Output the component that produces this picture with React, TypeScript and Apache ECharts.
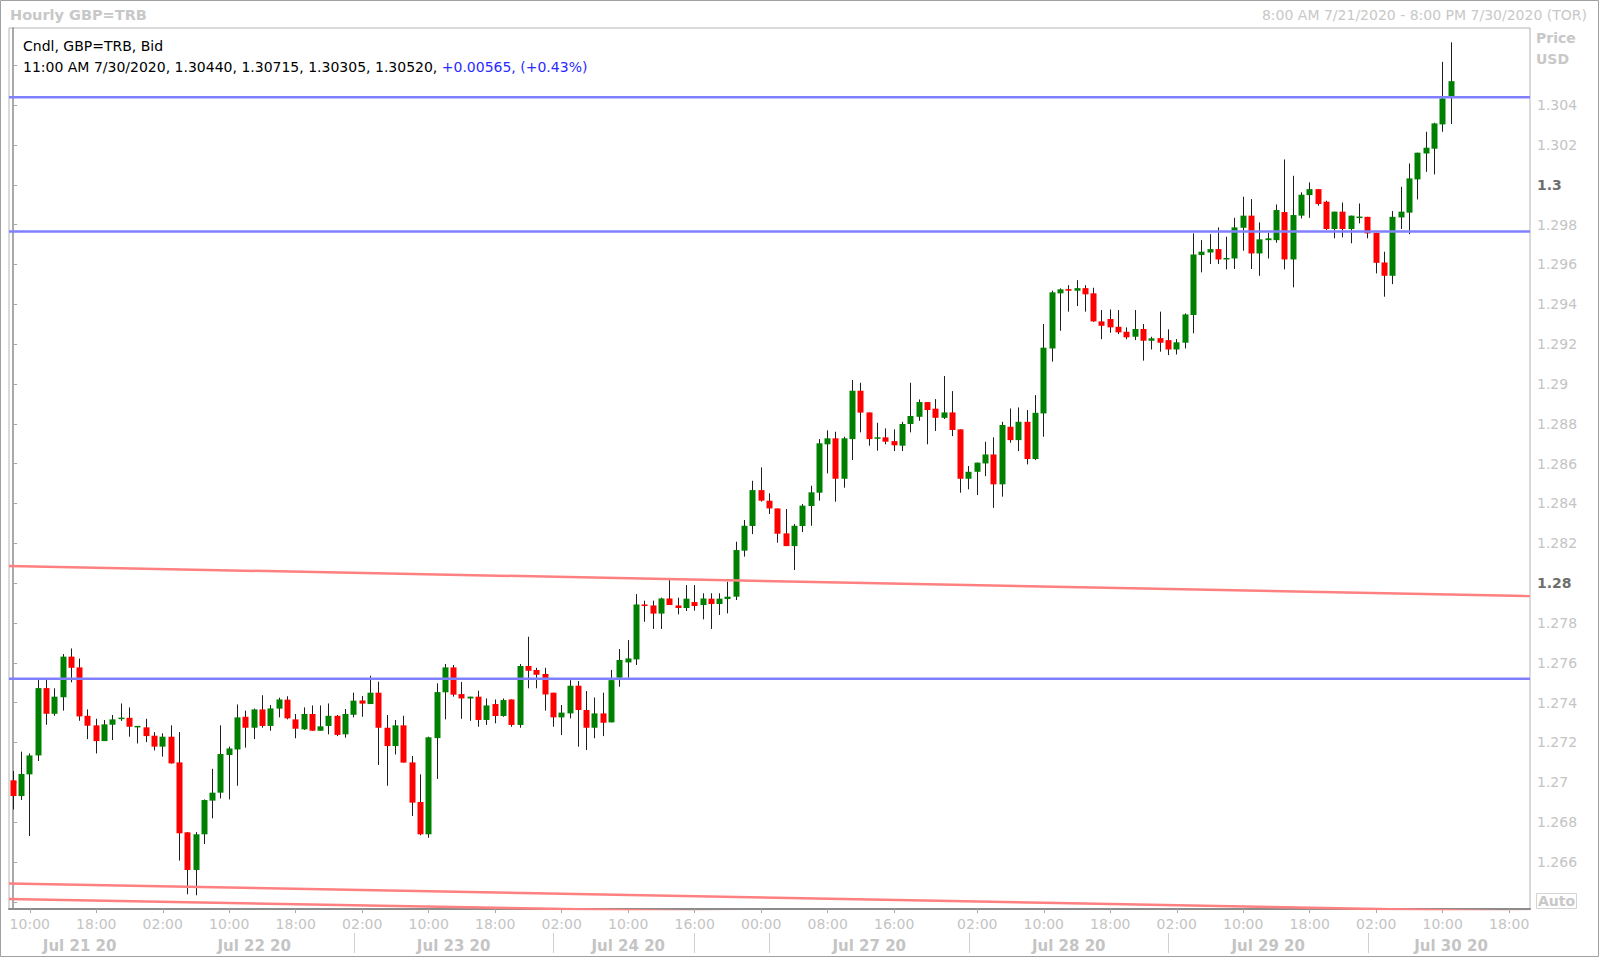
import React, { useEffect, useRef } from 'react';
import * as echarts from 'echarts';

const FONT = "'DejaVu Sans', Verdana, sans-serif";

// ---- time axis (hourly bars, weekend gap) ----
const sessionDays = ['Jul 21 20', 'Jul 22 20', 'Jul 23 20', 'Jul 24 20', 'Jul 26 20', 'Jul 27 20', 'Jul 28 20', 'Jul 29 20', 'Jul 30 20'];
const sessionFirstHour = [8, 0, 0, 0, 16, 0, 0, 0, 0];
const sessionLastHour = [23, 23, 23, 17, 23, 23, 23, 23, 20];

const hourLabelIndex = [2, 10, 18, 26, 34, 42, 50, 58, 66, 74, 82, 90, 98, 106, 116, 124, 132, 140, 148, 156, 164, 172, 180];
const dateLabelIndex = [8, 29, 53, 74, 103, 127, 151, 173];
const dateSeparatorIndex = [41, 65, 82, 91, 115, 139, 163];

// ---- OHLC (bid) ----
const opens = [
  1.27010, 1.26931, 1.27040, 1.27135, 1.27473, 1.27344, 1.27427, 1.27631, 1.27577, 1.27334,
  1.27286, 1.27207, 1.27289, 1.27318, 1.27324, 1.27276, 1.27276, 1.27234, 1.27179, 1.27229,
  1.27100, 1.26749, 1.26560, 1.26739, 1.26908, 1.26948, 1.27137, 1.27165, 1.27329, 1.27274,
  1.27366, 1.27283, 1.27370, 1.27415, 1.27316, 1.27266, 1.27343, 1.27259, 1.27283, 1.27334,
  1.27241, 1.27339, 1.27411, 1.27393, 1.27450, 1.27274, 1.27182, 1.27286, 1.27100, 1.26901,
  1.26739, 1.27222, 1.27452, 1.27577, 1.27443, 1.27421, 1.27430, 1.27313, 1.27393, 1.27333,
  1.27416, 1.27288, 1.27584, 1.27564, 1.27544, 1.27450, 1.27326, 1.27346, 1.27485, 1.27363,
  1.27274, 1.27346, 1.27301, 1.27525, 1.27602, 1.27617, 1.27893, 1.27888, 1.27847, 1.27923,
  1.27888, 1.27875, 1.27905, 1.27890, 1.27922, 1.27895, 1.27920, 1.27932, 1.28163, 1.28287,
  1.28467, 1.28414, 1.28375, 1.28250, 1.28186, 1.28287, 1.28387, 1.28454, 1.28697, 1.28727,
  1.28524, 1.28723, 1.28966, 1.28857, 1.28725, 1.28732, 1.28713, 1.28690, 1.28799, 1.28835,
  1.28909, 1.28876, 1.28830, 1.28857, 1.28772, 1.28524, 1.28559, 1.28601, 1.28646, 1.28496,
  1.28785, 1.28718, 1.28810, 1.28623, 1.28852, 1.29178, 1.29455, 1.29476, 1.29468, 1.29481,
  1.29455, 1.29314, 1.29326, 1.29287, 1.29262, 1.29237, 1.29276, 1.29217, 1.29230, 1.29220,
  1.29173, 1.29207, 1.29346, 1.29647, 1.29660, 1.29677, 1.29625, 1.29630, 1.29784, 1.29845,
  1.29655, 1.29722, 1.29722, 1.29863, 1.29625, 1.29845, 1.29948, 1.29978, 1.29915, 1.29778,
  1.29865, 1.29778, 1.29834, 1.29839, 1.29759, 1.29610, 1.29543, 1.29836, 1.29860, 1.30027,
  1.30157, 1.30181, 1.30303, 1.30440,
];
const highs = [
  1.27057, 1.27154, 1.27145, 1.27514, 1.27514, 1.27472, 1.27644, 1.27672, 1.27621, 1.27366,
  1.27319, 1.27313, 1.27338, 1.27396, 1.27376, 1.27283, 1.27319, 1.27252, 1.27246, 1.27286,
  1.27252, 1.26750, 1.26750, 1.26914, 1.27068, 1.27286, 1.27179, 1.27391, 1.27360, 1.27370,
  1.27437, 1.27388, 1.27425, 1.27432, 1.27343, 1.27376, 1.27386, 1.27386, 1.27396, 1.27338,
  1.27368, 1.27450, 1.27433, 1.27535, 1.27505, 1.27338, 1.27313, 1.27334, 1.27132, 1.27040,
  1.27229, 1.27497, 1.27594, 1.27589, 1.27504, 1.27430, 1.27460, 1.27421, 1.27416, 1.27421,
  1.27416, 1.27594, 1.27731, 1.27575, 1.27575, 1.27450, 1.27388, 1.27513, 1.27508, 1.27458,
  1.27426, 1.27450, 1.27564, 1.27669, 1.27714, 1.27945, 1.27912, 1.27912, 1.27927, 1.28016,
  1.27927, 1.27990, 1.27990, 1.27949, 1.27949, 1.27949, 1.28007, 1.28208, 1.28317, 1.28514,
  1.28581, 1.28451, 1.28375, 1.28372, 1.28297, 1.28397, 1.28489, 1.28723, 1.28767, 1.28760,
  1.28735, 1.29020, 1.29006, 1.28857, 1.28805, 1.28777, 1.28772, 1.28810, 1.29006, 1.28922,
  1.28909, 1.28924, 1.29040, 1.28964, 1.28772, 1.28588, 1.28605, 1.28710, 1.28732, 1.28810,
  1.28877, 1.28882, 1.28869, 1.28944, 1.29301, 1.29468, 1.29480, 1.29496, 1.29521, 1.29496,
  1.29483, 1.29371, 1.29374, 1.29371, 1.29284, 1.29371, 1.29301, 1.29237, 1.29363, 1.29274,
  1.29225, 1.29354, 1.29756, 1.29722, 1.29752, 1.29786, 1.29739, 1.29834, 1.29940, 1.29928,
  1.29811, 1.29759, 1.29901, 1.30127, 1.30045, 1.29962, 1.30012, 1.29978, 1.29920, 1.29865,
  1.29911, 1.29845, 1.29906, 1.29839, 1.29759, 1.29664, 1.29868, 1.29990, 1.30107, 1.30161,
  1.30266, 1.30311, 1.30617, 1.30715,
];
const lows = [
  1.26864, 1.26911, 1.26730, 1.27107, 1.27289, 1.27334, 1.27360, 1.27502, 1.27309, 1.27217,
  1.27145, 1.27207, 1.27212, 1.27308, 1.27229, 1.27195, 1.27202, 1.27160, 1.27129, 1.27094,
  1.26607, 1.26438, 1.26433, 1.26690, 1.26819, 1.26919, 1.26914, 1.26983, 1.27174, 1.27217,
  1.27274, 1.27259, 1.27326, 1.27316, 1.27221, 1.27263, 1.27259, 1.27259, 1.27241, 1.27232,
  1.27224, 1.27326, 1.27329, 1.27393, 1.27087, 1.26983, 1.27140, 1.27099, 1.26831, 1.26734,
  1.26722, 1.27017, 1.27316, 1.27430, 1.27319, 1.27309, 1.27279, 1.27288, 1.27296, 1.27329,
  1.27279, 1.27274, 1.27472, 1.27472, 1.27360, 1.27279, 1.27237, 1.27321, 1.27179, 1.27162,
  1.27221, 1.27232, 1.27301, 1.27480, 1.27525, 1.27589, 1.27806, 1.27770, 1.27770, 1.27890,
  1.27843, 1.27860, 1.27862, 1.27818, 1.27770, 1.27840, 1.27848, 1.27915, 1.28133, 1.28246,
  1.28409, 1.28347, 1.28203, 1.28186, 1.28066, 1.28256, 1.28288, 1.28414, 1.28551, 1.28409,
  1.28479, 1.28618, 1.28757, 1.28690, 1.28665, 1.28697, 1.28663, 1.28663, 1.28757, 1.28815,
  1.28697, 1.28764, 1.28824, 1.28738, 1.28454, 1.28471, 1.28442, 1.28537, 1.28378, 1.28434,
  1.28705, 1.28663, 1.28596, 1.28618, 1.28735, 1.29112, 1.29267, 1.29363, 1.29391, 1.29363,
  1.29312, 1.29225, 1.29257, 1.29250, 1.29225, 1.29220, 1.29117, 1.29173, 1.29162, 1.29145,
  1.29148, 1.29178, 1.29254, 1.29560, 1.29602, 1.29602, 1.29575, 1.29577, 1.29669, 1.29577,
  1.29543, 1.29630, 1.29709, 1.29575, 1.29485, 1.29831, 1.29834, 1.29895, 1.29773, 1.29731,
  1.29736, 1.29706, 1.29806, 1.29731, 1.29555, 1.29438, 1.29501, 1.29778, 1.29752, 1.29926,
  1.30065, 1.30052, 1.30266, 1.30305,
];
const closes = [
  1.26931, 1.27042, 1.27135, 1.27473, 1.27344, 1.27430, 1.27631, 1.27575, 1.27331, 1.27284,
  1.27207, 1.27291, 1.27316, 1.27324, 1.27279, 1.27283, 1.27232, 1.27179, 1.27229, 1.27095,
  1.26744, 1.26560, 1.26739, 1.26911, 1.26948, 1.27142, 1.27170, 1.27326, 1.27274, 1.27366,
  1.27283, 1.27371, 1.27416, 1.27321, 1.27269, 1.27343, 1.27259, 1.27281, 1.27334, 1.27238,
  1.27343, 1.27410, 1.27395, 1.27450, 1.27274, 1.27182, 1.27286, 1.27099, 1.26898, 1.26739,
  1.27226, 1.27453, 1.27577, 1.27440, 1.27421, 1.27430, 1.27313, 1.27386, 1.27333, 1.27413,
  1.27288, 1.27584, 1.27560, 1.27540, 1.27441, 1.27326, 1.27350, 1.27485, 1.27363, 1.27274,
  1.27346, 1.27299, 1.27513, 1.27614, 1.27622, 1.27893, 1.27885, 1.27847, 1.27923, 1.27890,
  1.27875, 1.27922, 1.27885, 1.27923, 1.27895, 1.27922, 1.27932, 1.28166, 1.28288, 1.28467,
  1.28414, 1.28375, 1.28248, 1.28186, 1.28288, 1.28389, 1.28456, 1.28702, 1.28727, 1.28524,
  1.28727, 1.28966, 1.28856, 1.28723, 1.28732, 1.28710, 1.28692, 1.28799, 1.28839, 1.28909,
  1.28869, 1.28830, 1.28857, 1.28769, 1.28524, 1.28559, 1.28605, 1.28646, 1.28496, 1.28794,
  1.28718, 1.28810, 1.28623, 1.28855, 1.29182, 1.29460, 1.29475, 1.29468, 1.29481, 1.29450,
  1.29314, 1.29292, 1.29284, 1.29259, 1.29234, 1.29276, 1.29217, 1.29229, 1.29207, 1.29173,
  1.29209, 1.29349, 1.29650, 1.29664, 1.29677, 1.29625, 1.29632, 1.29786, 1.29845, 1.29655,
  1.29726, 1.29731, 1.29873, 1.29625, 1.29848, 1.29950, 1.29978, 1.29903, 1.29778, 1.29865,
  1.29778, 1.29845, 1.29839, 1.29756, 1.29608, 1.29543, 1.29839, 1.29865, 1.30032, 1.30161,
  1.30186, 1.30308, 1.30433, 1.30520,
];

// ---- drawn studies ----
const horizontalLevels = [1.30439, 1.29765, 1.27520];
const channelStart = [1.28086, 1.26492, 1.26414];
const channelEnd = [1.27935, 1.26350, 1.26277];

const yMin = 1.26364;
const yMax = 1.30787;

const lastTime = '11:00 AM 7/30/2020';
const lastChange = '+0.00565';
const lastChangePct = '(+0.43%)';

const categories: string[] = [];
sessionDays.forEach((d, k) => {
  for (let h = sessionFirstHour[k]; h <= sessionLastHour[k]; h++) {
    categories.push(d + '|' + String(h).padStart(2, '0') + ':00');
  }
});

const hourSet = new Set(hourLabelIndex);
const dateSet = new Set(dateLabelIndex);
const sepSet = new Set(dateSeparatorIndex);

export default function App() {
  const ref = useRef<HTMLDivElement>(null);

  useEffect(() => {
    if (!ref.current) return;
    const chart = echarts.init(ref.current, undefined, { renderer: 'svg' });
    const n = closes.length;
    const last = n - 1;
    const xEnd = categories.length - 0.5;
    const candleData = opens.map((o, i) => [i, o, closes[i], lows[i], highs[i]]);

    const yLabel = (v: number) => {
      const k = Math.round(v * 1000);
      if (Math.abs(v * 1000 - k) > 0.01) return '';
      if (k % 2 !== 0 || k < 1265 || k > 1305) return '';
      const s = String(Number((k / 1000).toFixed(3)));
      return k % 20 === 0 ? `{b|${s}}` : s;
    };

    const txt = (extra: any) => ({
      fontFamily: FONT,
      fontSize: 14,
      lineHeight: 16,
      ...extra,
    });

    const line2a = `${lastTime}, ${opens[last].toFixed(5)}, ${highs[last].toFixed(5)}, ${lows[last].toFixed(5)}, ${closes[last].toFixed(5)}, `;
    const line2b = `${lastChange}, ${lastChangePct}`;

    const series: any[] = [
      {
        type: 'custom',
        name: 'GBP=TRB',
        xAxisIndex: 0,
        yAxisIndex: 0,
        data: candleData,
        encode: { x: 0, y: [1, 2, 3, 4] },
        z: 2,
        clip: true,
        renderItem: (params: any, api: any) => {
          const idx = api.value(0);
          const o = api.value(1);
          const c = api.value(2);
          const l = api.value(3);
          const h = api.value(4);
          const pO = api.coord([idx, o]);
          const pC = api.coord([idx, c]);
          const pL = api.coord([idx, l]);
          const pH = api.coord([idx, h]);
          const band = api.size([1, 0])[0];
          const bw = Math.max(3, Math.round(band * 0.72));
          const cx = Math.round(pO[0] - 0.5) + 0.5;
          const up = c >= o;
          let top = Math.min(pO[1], pC[1]);
          let bh = Math.abs(pO[1] - pC[1]);
          if (bh < 1.5) {
            top -= (1.5 - bh) / 2;
            bh = 1.5;
          }
          return {
            type: 'group',
            children: [
              {
                type: 'line',
                shape: { x1: cx, y1: pH[1], x2: cx, y2: pL[1] },
                style: { stroke: '#1e1e1e', lineWidth: 1 },
              },
              {
                type: 'rect',
                shape: { x: cx - bw / 2, y: top, width: bw, height: bh },
                style: { fill: up ? '#008000' : '#ff0000' },
              },
            ],
          };
        },
      },
    ];

    horizontalLevels.forEach((v) => {
      series.push({
        type: 'line',
        xAxisIndex: 2,
        yAxisIndex: 0,
        data: [[-0.5, v], [xEnd, v]],
        symbol: 'none',
        silent: true,
        z: 3,
        lineStyle: { color: '#8080ff', width: 2.5 },
      });
    });
    channelStart.forEach((v, k) => {
      series.push({
        type: 'line',
        xAxisIndex: 2,
        yAxisIndex: 0,
        data: [[-0.5, v], [xEnd, channelEnd[k]]],
        symbol: 'none',
        silent: true,
        clip: true,
        z: 3,
        lineStyle: { color: '#ff8080', width: 2.5 },
      });
    });
    series.push({
      type: 'scatter',
      xAxisIndex: 2,
      yAxisIndex: 0,
      data: [[xEnd, closes[last]]],
      symbolSize: 1,
      itemStyle: { opacity: 0 },
      silent: true,
      z: 5,
      label: {
        show: true,
        position: 'right',
        distance: 1,
        formatter: () => closes[last].toFixed(5),
        backgroundColor: '#000',
        color: '#fff',
        fontFamily: FONT,
        fontWeight: 'bold',
        fontSize: 14,
        lineHeight: 16,
        padding: [1, 2, 1, 2],
      },
    });

    const option: any = {
      animation: false,
      backgroundColor: '#ffffff',
      textStyle: { fontFamily: FONT },
      title: [
        { text: 'Hourly GBP=TRB', left: 10, top: 7, padding: 0, textStyle: txt({ fontSize: 14.5, fontWeight: 'bold', color: '#c8c8c8' }) },
        { text: '8:00 AM 7/21/2020 - 8:00 PM 7/30/2020 (TOR)', right: 13, top: 7, padding: 0, textStyle: txt({ fontWeight: 'normal', color: '#c8c8c8' }) },
        { text: 'Cndl, GBP=TRB, Bid', left: 23, top: 38, padding: 0, textStyle: txt({ fontWeight: 'normal', color: '#000000' }) },
        {
          text: `{a|${line2a}}{b|${line2b}}`,
          left: 23,
          top: 59,
          padding: 0,
          textStyle: txt({
            fontWeight: 'normal',
            color: '#000000',
            rich: {
              a: { fontFamily: FONT, fontSize: 14, lineHeight: 16, color: '#000000' },
              b: { fontFamily: FONT, fontSize: 14, lineHeight: 16, color: '#2a2aff' },
            },
          }),
        },
        { text: 'Price', left: 1536, top: 30, padding: 0, textStyle: txt({ fontWeight: 'bold', color: '#c8c8c8' }) },
        { text: 'USD', left: 1536, top: 51, padding: 0, textStyle: txt({ fontWeight: 'bold', color: '#c8c8c8' }) },
        {
          text: 'Auto',
          left: 1536,
          top: 893,
          padding: [0, 2, 0, 2],
          borderColor: '#d4d4d4',
          borderWidth: 1,
          textStyle: txt({ fontWeight: 'bold', color: '#c8c8c8' }),
        },
      ],
      graphic: [
        {
          type: 'rect',
          silent: true,
          z: 100,
          shape: { x: 0.5, y: 0.5, width: 1598, height: 956 },
          style: { fill: 'transparent', stroke: '#a0a0a0', lineWidth: 1 },
        },
      ],
      grid: {
        left: 9,
        right: 70,
        top: 28,
        bottom: 49,
        show: true,
        borderColor: '#b4b4b4',
        borderWidth: 1,
        backgroundColor: '#ffffff',
      },
      xAxis: [
        {
          type: 'category',
          data: categories,
          boundaryGap: true,
          position: 'bottom',
          axisLine: { show: true, lineStyle: { color: '#8c8c8c', width: 2 } },
          axisTick: {
            show: true,
            alignWithLabel: true,
            length: 4,
            interval: (i: number) => hourSet.has(i),
            lineStyle: { color: '#a8a8a8' },
          },
          axisLabel: {
            show: true,
            interval: (i: number) => hourSet.has(i),
            formatter: (v: string) => v.split('|')[1],
            color: '#c4c4c4',
            fontFamily: FONT,
            fontSize: 14,
            margin: 8,
          },
          splitLine: { show: false },
        },
        {
          type: 'category',
          data: categories,
          boundaryGap: true,
          position: 'bottom',
          offset: 24,
          axisLine: { show: false },
          axisTick: {
            show: true,
            alignWithLabel: true,
            length: 20,
            interval: (i: number) => sepSet.has(i),
            lineStyle: { color: '#d0d0d0' },
          },
          axisLabel: {
            show: true,
            interval: (i: number) => dateSet.has(i),
            formatter: (v: string) => v.split('|')[0],
            color: '#c4c4c4',
            fontFamily: FONT,
            fontWeight: 'bold',
            fontSize: 15,
            margin: 5,
          },
          splitLine: { show: false },
        },
        {
          type: 'value',
          min: -0.5,
          max: xEnd,
          show: false,
          position: 'top',
          splitLine: { show: false },
        },
      ],
      yAxis: [
        {
          type: 'value',
          position: 'right',
          min: yMin,
          max: yMax,
          splitNumber: 22,
          axisLine: { show: true, lineStyle: { color: '#8c8c8c', width: 1.5 } },
          axisTick: { show: true, length: 4, lineStyle: { color: '#a8a8a8' } },
          splitLine: { show: false },
          axisLabel: {
            margin: 7,
            color: '#c4c4c4',
            fontFamily: FONT,
            fontSize: 14,
            showMinLabel: false,
            showMaxLabel: false,
            formatter: yLabel,
            rich: {
              b: { fontFamily: FONT, fontSize: 14, fontWeight: 'bold', color: '#6e6e6e' },
            },
          },
        },
      ],
      series,
    };

    chart.setOption(option);
    return () => {
      chart.dispose();
    };
  }, []);

  return (
    <div
      ref={ref}
      style={{ position: 'absolute', left: 0, top: 0, width: '1600px', height: '958px', background: '#fff' }}
    />
  );
}
